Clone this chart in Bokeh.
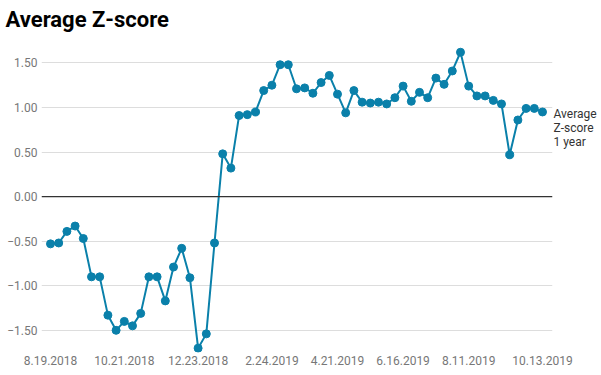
import pandas as pd
from bokeh.plotting import figure
from bokeh.models import (FixedTicker, CustomJSTickFormatter, Span, Range1d,
                          LinearAxis)
from bokeh.embed import file_html
from bokeh.resources import INLINE

# ---- data ----
start_date = "2018-08-19"
n_weeks = 61
zscore = [-0.53, -0.52, -0.39, -0.33, -0.47, -0.90, -0.90, -1.33, -1.50, -1.40,
          -1.45, -1.31, -0.90, -0.90, -1.17, -0.79, -0.58, -0.91, -1.70, -1.54,
          -0.52, 0.48, 0.32, 0.91, 0.92, 0.95, 1.19, 1.25, 1.48, 1.48,
          1.21, 1.22, 1.16, 1.28, 1.36, 1.15, 0.94, 1.19, 1.06, 1.05,
          1.06, 1.04, 1.11, 1.24, 1.07, 1.17, 1.11, 1.33, 1.26, 1.41,
          1.62, 1.24, 1.13, 1.13, 1.08, 1.04, 0.47, 0.86, 0.99, 0.99, 0.95]
x_tick_dates = ["2018-08-19", "2018-10-21", "2018-12-23", "2019-02-24",
                "2019-04-21", "2019-06-16", "2019-08-11", "2019-10-13"]
y_ticks = [-1.5, -1.0, -0.5, 0.0, 0.5, 1.0, 1.5]
series_label = "Average\nZ-score\n1 year"
series_label_y = 0.767
title_text = "Average Z-score"

dates = pd.date_range(start_date, periods=n_weeks, freq="7D")
week_ms = 7 * 24 * 3600 * 1000
t0 = dates[0].value // 10**6
xs = [d.value // 10**6 for d in dates]
tick_ms = [pd.Timestamp(d).value // 10**6 for d in x_tick_dates]

LINE = "#0a80aa"

p = figure(width=600, height=374, output_backend="svg", toolbar_location=None,
           x_axis_type="datetime",
           x_range=Range1d(t0 - 1.098 * week_ms, t0 + 61.22 * week_ms),
           y_range=Range1d(-1.749, 1.808),
           min_border_left=41, min_border_right=48, min_border_bottom=22,
           min_border_top=0)
p.title.text = title_text
p.title.text_font = "Roboto"
p.title.text_font_size = "22px"
p.title.text_font_style = "bold"
p.title.text_color = "#000000"
p.title.standoff = 8
p.title.offset = -36
p.outline_line_color = None
p.xgrid.grid_line_color = None
p.ygrid.grid_line_color = "#dddddd"
p.ygrid.ticker = FixedTicker(ticks=[t for t in y_ticks if t != 0])

p.add_layout(Span(location=0, dimension="width", line_color="#333333", line_width=1.3))

p.line(xs, zscore, line_color=LINE, line_width=2)
p.scatter(xs, zscore, size=8, fill_color=LINE, line_color=LINE)

# series name shown at the right edge, next to the last point
right_axis = LinearAxis(ticker=FixedTicker(ticks=[series_label_y]),
                        formatter=CustomJSTickFormatter(code="return %r;" % series_label))
p.add_layout(right_axis, "right")

p.xaxis.ticker = FixedTicker(ticks=tick_ms)
p.xaxis.formatter = CustomJSTickFormatter(code="""
const d = new Date(tick);
return (d.getUTCMonth()+1) + "." + d.getUTCDate() + "." + d.getUTCFullYear();
""")
p.yaxis[0].ticker = FixedTicker(ticks=y_ticks)
p.yaxis[0].formatter = CustomJSTickFormatter(code="""
const s = Math.abs(tick).toFixed(2);
return tick < 0 ? "\u2212" + s : s;
""")
for ax in (p.xaxis[0], p.yaxis[0], right_axis):
    ax.axis_line_color = None
    ax.major_tick_line_color = None
    ax.minor_tick_line_color = None
    ax.major_tick_out = 0
    ax.major_tick_in = 0
    ax.minor_tick_out = 0
    ax.minor_tick_in = 0
    ax.axis_label_standoff = 0
    ax.major_label_text_font = "Roboto"
    ax.major_label_text_font_size = "12px"
    ax.major_label_text_color = "#777777"
p.xaxis.major_label_standoff = 3
p.yaxis[0].major_label_standoff = 4
right_axis.major_label_standoff = 1
right_axis.major_label_text_color = "#333333"
right_axis.major_label_text_line_height = 1.0

open("out.html", "w").write(file_html(p, INLINE))
